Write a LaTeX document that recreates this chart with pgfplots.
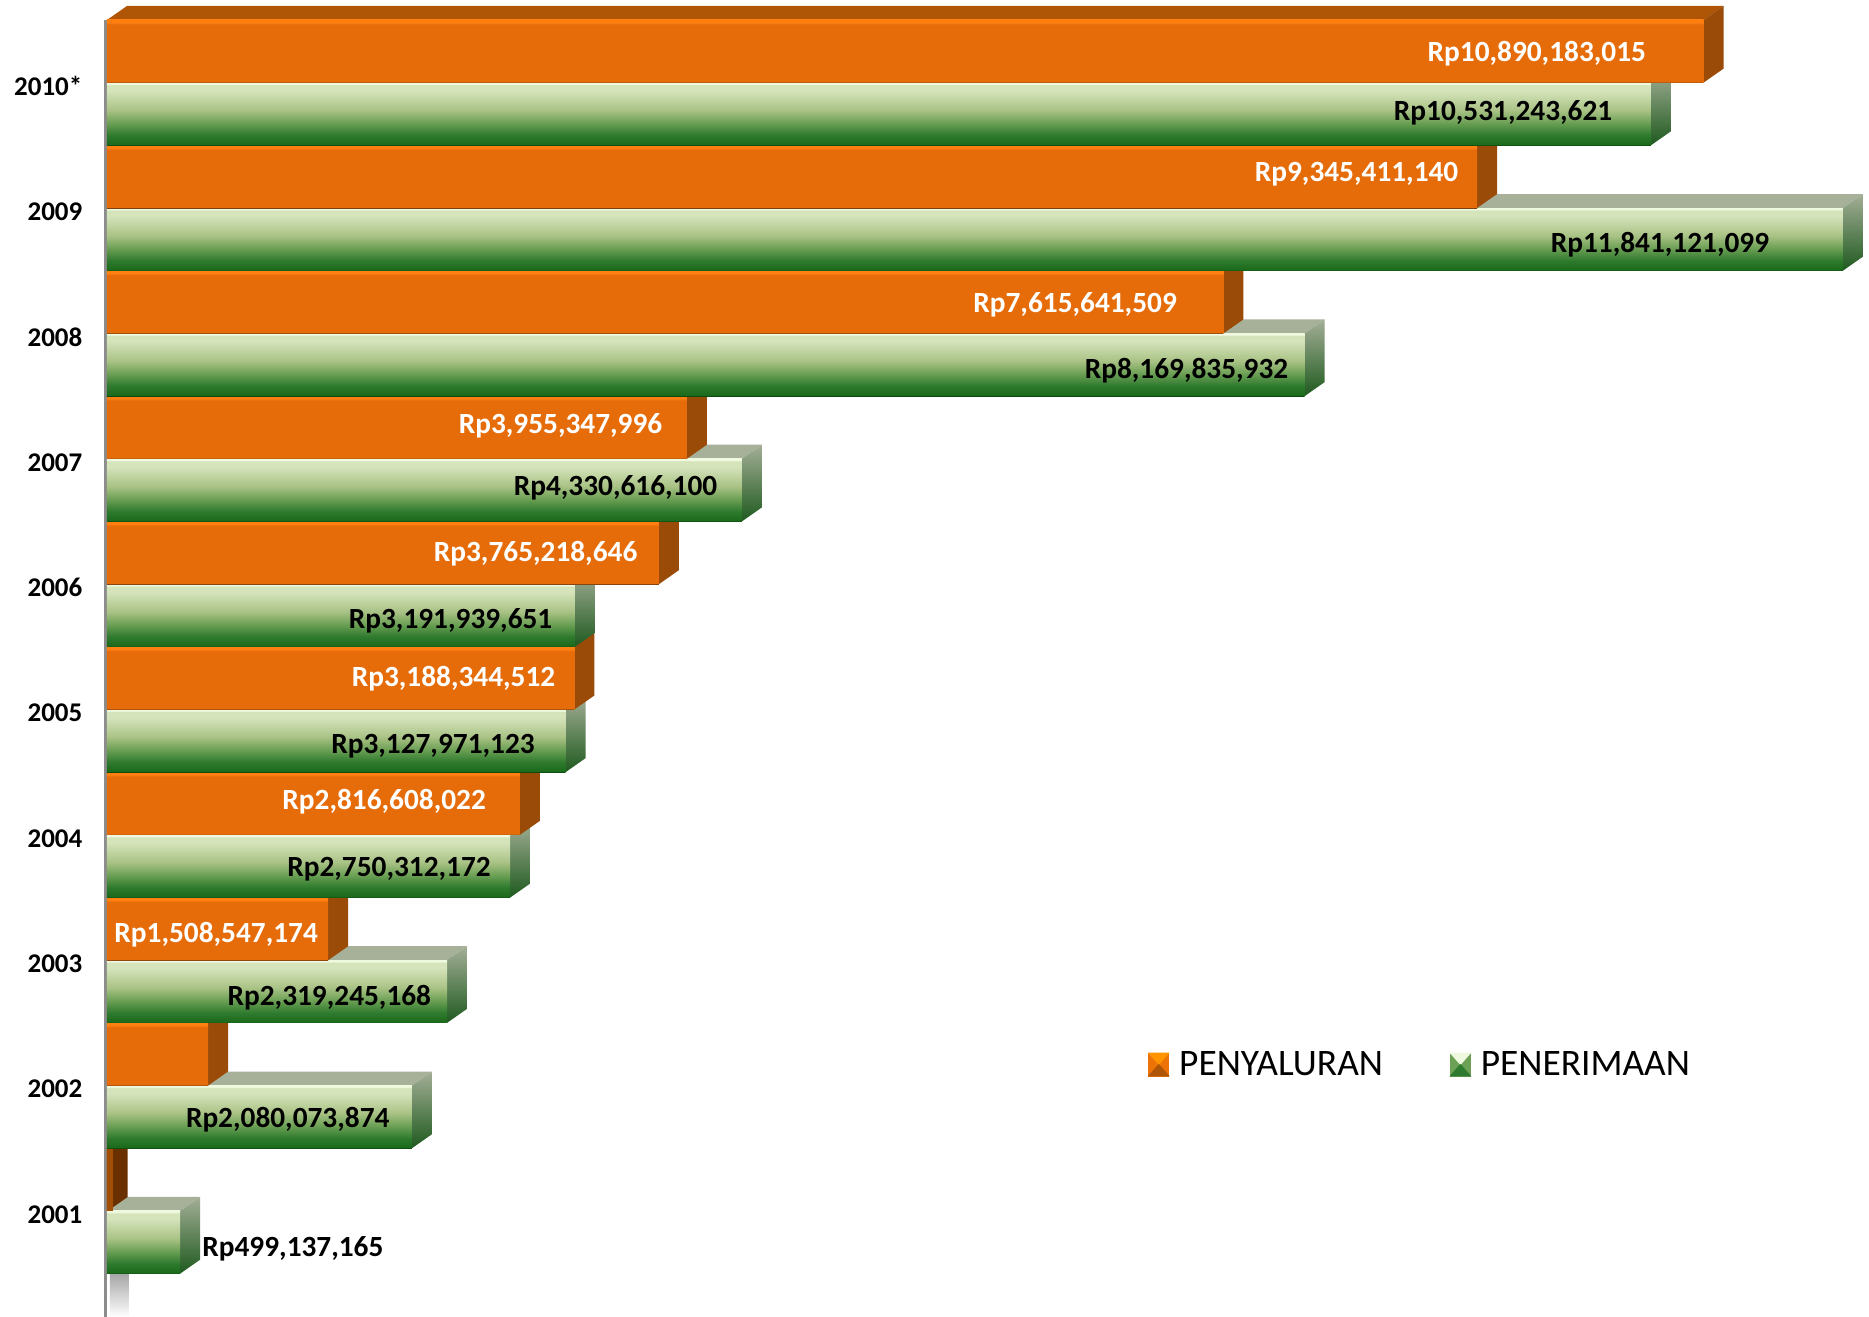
\documentclass[border=0pt]{standalone}
\usepackage{fontspec}
\setmainfont{Carlito}
\usepackage{pgfplots}
\pgfplotsset{compat=1.18}
\definecolor{gHi}{HTML}{EEF9E0}\definecolor{gA}{HTML}{D6E4BC}\definecolor{gB}{HTML}{A9C285}
\definecolor{gC}{HTML}{6CA055}\definecolor{gD}{HTML}{2E7A2E}\definecolor{gE}{HTML}{1C6A1C}\definecolor{gLo}{HTML}{0D480D}
\definecolor{oHi}{HTML}{FF7F10}\definecolor{oM}{HTML}{E66C0A}\definecolor{oLo}{HTML}{7A4010}
\definecolor{oTop}{HTML}{AE5506}\definecolor{oSide}{HTML}{9A4B08}
\definecolor{gTop}{HTML}{A7B19A}\definecolor{gSideT}{HTML}{A3AE96}\definecolor{gSideB}{HTML}{1F5A1F}
\definecolor{bF}{HTML}{A04F05}\definecolor{bS}{HTML}{6B3000}
\pgfdeclareverticalshading{greenbar}{100bp}{color(0bp)=(gLo);color(25bp)=(gLo);color(25.8bp)=(gE);color(33bp)=(gD);color(43bp)=(gC);color(53bp)=(gB);color(69bp)=(gA);color(73bp)=(gA);color(74bp)=(gHi);color(100bp)=(gHi)}
\pgfdeclareverticalshading{orangebar}{100bp}{color(0bp)=(oLo);color(25bp)=(oLo);color(25.8bp)=(oM);color(71.5bp)=(oM);color(73bp)=(oHi);color(75bp)=(oHi);color(100bp)=(oHi)}
\pgfdeclareverticalshading{brownbar}{100bp}{color(0bp)=(bF);color(100bp)=(bF)}
\pgfplotsset{
 topg/.style={fill=gTop,draw=none},
 sideg/.style={shade,top color=gSideT,bottom color=gSideB,draw=none},
 frontg/.style={shade,shading=greenbar,draw=none},
 topo/.style={fill=oTop,draw=none},
 sideo/.style={fill=oSide,draw=none},
 fronto/.style={shade,shading=orangebar,draw=none},
 topb/.style={fill=bS,draw=none},
 sideb/.style={fill=bS,draw=none},
 frontb/.style={shade,shading=brownbar,draw=none},
}
% value, lower edge of the bar, family
\newcommand\threebar[3]{%
 \pgfmathsetmacro\vv{#1}%
 \pgfmathsetmacro\vd{#1+0.1364}%
 \pgfmathsetmacro\yt{#2+0.5}%
 \pgfmathsetmacro\yc{#2+0.25}%
 \pgfmathsetmacro\ytd{#2+0.5+0.1117}%
 \pgfmathsetmacro\ybd{#2+0.1117}%
 \edef\tmp{\noexpand\addplot[forget plot,top#3] coordinates {(0,\yt)(0.1364,\ytd)(\vd,\ytd)(\vv,\yt)(0,\yt)};
 \noexpand\addplot[forget plot,side#3] coordinates {(\vv,#2)(\vd,\ybd)(\vd,\ytd)(\vv,\yt)(\vv,#2)};
 \noexpand\addplot[forget plot,xbar,bar shift=0pt,bar width=31.33pt,front#3] coordinates {(\vv,\yc)};}%
 \tmp}
\newcommand\lab[4]{\node[anchor=east,inner sep=0pt,yshift=-1.5pt,text=#4,font=\bfseries\fontsize{14.65}{18}\selectfont] at (axis cs:#1,#2) {#3};}
\begin{document}
\begin{tikzpicture}
\useasboundingbox (0,0) rectangle (934.5pt,658.5pt);
\begin{axis}[
 at={(53.5pt,0pt)},anchor=south west,
 scale only axis,width=879.6pt,height=648.5pt,
 xmin=0,xmax=12,ymin=-0.846,ymax=9.5,
 clip=false,
 axis x line=none,
 axis y line=left,
 axis y line shift=0.7pt,
 axis line style={draw=black!45,line width=1.4pt,-},
 ytick={0,1,2,3,4,5,6,7,8,9},
 yticklabels={2001,2002,2003,2004,2005,2006,2007,2008,2009,2010*},
 yticklabel style={font=\bfseries\fontsize{13.5}{16}\selectfont,xshift=-8.1pt,yshift=-1.8pt},
 major tick length=0pt,
 legend style={at={(axis cs:7.06,1.168)},anchor=west,draw=none,fill=none,
   font=\fontsize{18.7}{22}\selectfont,legend columns=2,
   /tikz/every odd column/.append style={column sep=3pt},
   /tikz/every even column/.append style={column sep=31.5pt}},
 legend cell align=left,
]
\addplot[forget plot,shade,top color=black!35,bottom color=white,draw=none] coordinates {(0.02,-0.5)(0.15,-0.5)(0.15,-0.846)(0.02,-0.846)(0.02,-0.5)};
\threebar{0.499137165}{-0.5}{g}
\threebar{0.005}{0}{b}
\addplot[forget plot,xbar,bar shift=0pt,bar width=31.33pt,frontb] coordinates {(0.04,0.25)};
\threebar{2.080073874}{0.5}{g}
\threebar{0.689}{1}{o}
\threebar{2.319245168}{1.5}{g}
\threebar{1.508547174}{2}{o}
\threebar{2.750312172}{2.5}{g}
\threebar{2.816608022}{3}{o}
\threebar{3.127971123}{3.5}{g}
\threebar{3.188344512}{4}{o}
\threebar{3.191939651}{4.5}{g}
\threebar{3.765218646}{5}{o}
\threebar{4.330616100}{5.5}{g}
\threebar{3.955347996}{6}{o}
\threebar{8.169835932}{6.5}{g}
\threebar{7.615641509}{7}{o}
\threebar{11.841121099}{7.5}{g}
\threebar{9.345411140}{8}{o}
\threebar{10.531243621}{8.5}{g}
\threebar{10.890183015}{9}{o}
\lab{10.50}{9.255}{Rp10,890,183,015}{white}
\lab{10.27}{8.78}{Rp10,531,243,621}{black}
\lab{9.22}{8.295}{Rp9,345,411,140}{white}
\lab{11.34}{7.733}{Rp11,841,121,099}{black}
\lab{7.30}{7.248}{Rp7,615,641,509}{white}
\lab{8.06}{6.725}{Rp8,169,835,932}{black}
\lab{3.79}{6.288}{Rp3,955,347,996}{white}
\lab{4.165}{5.793}{Rp4,330,616,100}{black}
\lab{3.62}{5.27}{Rp3,765,218,646}{white}
\lab{3.04}{4.728}{Rp3,191,939,651}{black}
\lab{3.06}{4.271}{Rp3,188,344,512}{white}
\lab{2.92}{3.729}{Rp3,127,971,123}{black}
\lab{2.587}{3.291}{Rp2,816,608,022}{white}
\lab{2.62}{2.749}{Rp2,750,312,172}{black}
\lab{1.441}{2.226}{Rp1,508,547,174}{white}
\lab{2.213}{1.721}{Rp2,319,245,168}{black}
\lab{1.929}{0.751}{Rp2,080,073,874}{black}
\lab{1.888}{-0.276}{Rp499,137,165}{black}
\addlegendimage{legend image code/.code={
  \fill[color=oM!70!orange] (0,-5.7pt) rectangle (10pt,5.7pt);
  \fill[color=orange!85!yellow] (0,5.7pt)--(10pt,5.7pt)--(5pt,0pt)--cycle;
  \fill[color=oTop] (0,-5.7pt)--(10pt,-5.7pt)--(5pt,0pt)--cycle;}}
\addlegendentry{PENYALURAN}
\addlegendimage{legend image code/.code={
  \fill[color=gC] (0,-5.7pt) rectangle (10pt,5.7pt);
  \fill[color=gHi] (0,5.7pt)--(10pt,5.7pt)--(5pt,0pt)--cycle;
  \fill[color=gD] (0,-5.7pt)--(10pt,-5.7pt)--(5pt,0pt)--cycle;}}
\addlegendentry{PENERIMAAN}
\end{axis}
\end{tikzpicture}
\end{document}
